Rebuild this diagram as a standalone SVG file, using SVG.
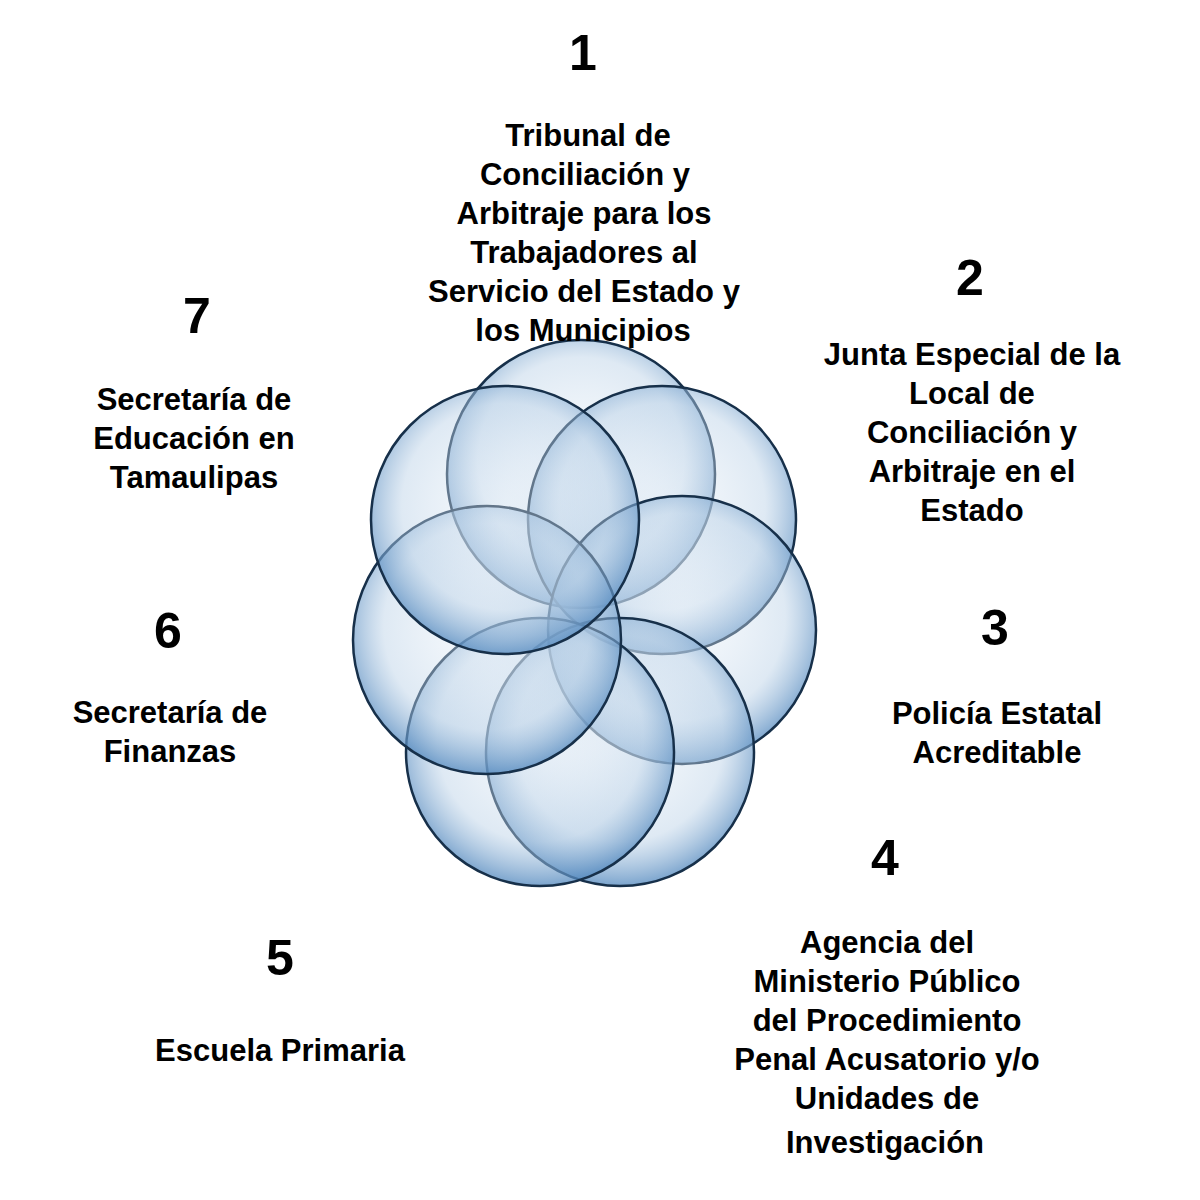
<svg xmlns="http://www.w3.org/2000/svg" width="1200" height="1200" viewBox="0 0 1200 1200">
<defs>
<radialGradient id="g" cx="0.5" cy="0.45" r="0.55">
<stop offset="0" stop-color="#eef4fa" stop-opacity="0.35"/>
<stop offset="0.7" stop-color="#b7cfe6" stop-opacity="0.45"/>
<stop offset="1" stop-color="#4f86bd" stop-opacity="0.75"/>
</radialGradient>
</defs>
<style>
.c{fill:url(#g);stroke:#17304a;stroke-width:2.5}
text{font-family:"Liberation Sans Narrow","Liberation Sans",Arial,sans-serif;font-weight:bold;fill:#000;text-anchor:middle}
.n{font-size:50px}
.t{font-size:31px}
</style>
<rect width="1200" height="1200" fill="#fff"/>
<g id="circles">
<ellipse class="c" cx="581" cy="474" rx="134" ry="134"/>
<ellipse class="c" cx="662" cy="520" rx="134" ry="134"/>
<ellipse class="c" cx="682" cy="630" rx="134" ry="134"/>
<ellipse class="c" cx="620" cy="752" rx="134" ry="134"/>
<ellipse class="c" cx="540" cy="752" rx="134" ry="134"/>
<ellipse class="c" cx="487" cy="640" rx="134" ry="134"/>
<ellipse class="c" cx="505" cy="520" rx="134" ry="134"/>
</g>
<g id="n1"><text class="n" x="583" y="70">1</text>
<text class="t" x="588" y="146">Tribunal de</text><text class="t" x="585" y="185">Conciliación y</text><text class="t" x="584" y="224">Arbitraje para los</text><text class="t" x="584" y="263">Trabajadores al</text><text class="t" x="584" y="302">Servicio del Estado y</text><text class="t" x="583" y="341">los Municipios</text></g>
<g id="n2"><text class="n" x="970" y="295">2</text>
<text class="t" x="972" y="365">Junta Especial de la</text><text class="t" x="972" y="404">Local de</text><text class="t" x="972" y="443">Conciliación y</text><text class="t" x="972" y="482">Arbitraje en el</text><text class="t" x="972" y="521">Estado</text></g>
<g id="n3"><text class="n" x="995" y="645">3</text>
<text class="t" x="997" y="724">Policía Estatal</text><text class="t" x="997" y="763">Acreditable</text></g>
<g id="n4"><text class="n" x="885" y="875">4</text>
<text class="t" x="887" y="953">Agencia del</text><text class="t" x="887" y="992">Ministerio Público</text><text class="t" x="887" y="1031">del Procedimiento</text><text class="t" x="887" y="1070">Penal Acusatorio y/o</text><text class="t" x="887" y="1109">Unidades de</text><text class="t" x="885" y="1153">Investigación</text></g>
<g id="n5"><text class="n" x="280" y="975">5</text>
<text class="t" x="280" y="1061">Escuela Primaria</text></g>
<g id="n6"><text class="n" x="168" y="648">6</text>
<text class="t" x="170" y="723">Secretaría de</text><text class="t" x="170" y="762">Finanzas</text></g>
<g id="n7"><text class="n" x="197" y="333">7</text>
<text class="t" x="194" y="410">Secretaría de</text><text class="t" x="194" y="449">Educación en</text><text class="t" x="194" y="488">Tamaulipas</text></g>
</svg>
